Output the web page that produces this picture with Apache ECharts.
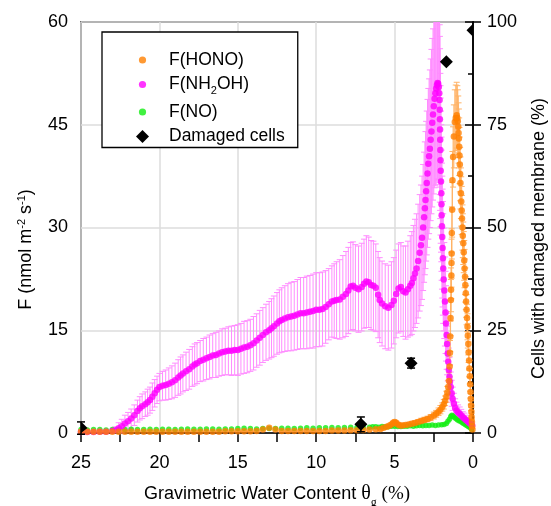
<!DOCTYPE html>
<html><head><meta charset="utf-8">
<script src="https://cdn.jsdelivr.net/npm/echarts@6/dist/echarts.min.js"></script>
<style>html,body{margin:0;padding:0;background:#fff}#c{width:551px;height:506px}</style>
</head><body><div id="c"></div>
<script>
// ---------- data ----------
const honoX = [25,24.6,24.2,23.8,23.4,23,22.6,22.2,21.8,21.4,21,20.6,20.2,19.8,19.4,19,18.6,18.2,17.8,17.4,17,16.6,16.2,15.8,15.4,15,14.6,14.2,
 13.8,13.4,13,12.6,12.2,11.8,11.4,11,10.6,10.2,9.8,9.4,9,8.6,8.2,7.8,7.4,7,6.6,6.2,
 5.9,5.7,5.5,5.35,5.2,5.1,5,4.9,4.8,4.65,4.5,4.3,4.1,3.9,3.7,3.5,3.3,3.1,2.9,2.7,2.5,2.35,2.2,2.08,1.96,1.86,1.78,1.7,1.64,1.58,1.53,
 1.49,1.47,1.45,1.43,1.41,1.4,1.38,1.37,1.36,1.35,1.33,1.31,1.27,1.22,1.16,1.1,1.04,
 1,0.97,0.94,0.92,0.9,0.88,0.86,0.84,0.82,0.8,0.77,0.75,0.72,0.7,0.67,0.65,0.62,0.59,0.56,0.54,0.51,0.49,0.46,0.44,0.41,0.38,0.35,0.33,0.3,0.28,0.25,0.23,0.2,0.18,0.16,0.14,0.12,0.1,0.09,0.07,0.06,0.04];
const honoY = [0.2,0.2,0.2,0.2,0.2,0.2,0.2,0.2,0.2,0.2,0.2,0.2,0.2,0.2,0.2,0.2,0.2,0.2,0.2,0.2,0.2,0.2,0.2,0.25,0.25,0.25,0.25,0.25,
 0.3,0.5,0.75,0.5,0.3,0.3,0.3,0.3,0.3,0.3,0.3,0.3,0.35,0.35,0.35,0.4,0.4,0.45,0.5,0.55,
 0.6,0.75,0.9,1.05,1.25,1.45,1.6,1.45,1.25,1.1,1.1,1.15,1.25,1.35,1.45,1.6,1.75,1.9,2.05,2.25,2.55,2.8,3.1,3.4,3.8,4.2,4.7,5.3,5.9,6.7,7.6,
 9.7,11.7,14.1,16.8,19.4,20.9,23.0,24.8,26.2,29.2,32.6,36.9,40.3,43.3,45.4,46.0,46.4,
 46.0,45.5,44.7,43.8,43.0,41.8,40.5,39.2,37.8,36.5,35.0,33.8,32.5,31.3,30.0,28.8,27.7,26.4,25.2,24.0,22.8,21.6,20.4,19.2,18.0,16.8,15.5,14.2,13.0,11.8,10.6,9.4,8.3,7.1,6.0,5.0,4.0,3.1,2.3,1.6,1.0,0.5];
const honoErr = [0,0,0,0,0,0,0,0,0,0,0,0,0,0,0,0,0,0,0,0,0,0,0,0,0,0,0,0,
 0,0,0,0,0,0,0,0,0,0,0,0,0,0,0,0,0,0,0,0,
 0.2,0.2,0.2,0.2,0.25,0.25,0.3,0.3,0.3,0.3,0.3,0.3,0.3,0.35,0.35,0.35,0.4,0.4,0.4,0.45,0.5,0.5,0.55,0.6,0.6,0.7,0.7,0.8,0.9,1.0,1.2,
 1.5,1.8,2.2,2.6,3.0,3.2,3.4,3.5,3.6,3.8,4.0,4.2,4.4,4.6,4.7,4.8,4.8,
 4.7,4.6,4.5,4.4,4.3,4.2,4.1,4.0,3.9,3.8,3.7,3.6,3.5,3.4,3.3,3.2,3.1,3.0,2.9,2.8,2.6,2.5,2.4,2.3,2.2,2.0,1.9,1.8,1.6,1.5,1.4,1.2,1.1,1.0,0.9,0.8,0.7,0.6,0.5,0.4,0.3,0.2];

const nh2ohX = [25,24.6,24.2,23.8,23.4,23.0,
 22.8,22.6,22.4,22.2,22.0,21.8,21.6,21.4,21.25,21.1,20.9,20.75,20.6,20.45,20.3,20.15,20.0,19.8,19.6,19.4,19.2,19.0,18.8,18.65,18.5,18.3,18.1,17.9,17.75,17.6,17.4,17.2,17.0,
 16.8,16.6,16.4,16.2,16.0,15.8,15.6,15.4,15.2,15.0,14.8,14.6,14.4,14.2,14.0,13.8,13.6,13.4,13.2,13.0,12.85,12.7,12.5,12.35,12.2,12.0,11.8,11.6,11.4,11.2,11.0,
 10.8,10.6,10.4,10.2,10.0,9.8,9.6,9.4,9.2,9.0,8.85,8.7,8.5,8.3,8.1,7.95,7.8,7.65,7.5,7.3,7.1,6.95,6.8,6.65,6.5,6.35,6.2,6.05,5.95,5.8,5.6,5.4,5.2,5.05,4.9,4.75,4.6,4.45,4.3,4.15,
 4.0,3.9,3.8,3.7,3.6,3.5,3.4,3.32,3.25,3.18,3.12,3.07,3.03,2.99,2.95,2.9,2.85,2.8,2.75,2.7,2.65,2.6,2.55,2.5,2.45,2.4,2.35,2.3,2.26,2.22,
 2.18,2.15,2.13,2.12,2.11,2.1,2.09,2.08,2.07,2.06,2.04,2.02,2.01,2.0,1.98,1.96,1.94,1.92,1.9,1.87,1.83,1.79,1.75,1.72,1.68,1.65,1.61,1.58,1.54,1.5,1.47,1.42,1.36,1.3,1.22,1.14,1.05,
 0.95,0.85,0.75,0.65,0.55,0.45,0.35,0.25,0.15,0.05];
const nh2ohY = [0.15,0.15,0.15,0.2,0.2,0.3,
 0.4,0.7,1.0,1.4,1.7,2.1,2.6,3.2,3.6,3.9,4.2,4.5,4.8,5.3,5.8,6.3,6.7,6.9,7.0,7.2,7.4,7.7,8.1,8.4,8.7,9.0,9.3,9.7,10.0,10.2,10.5,10.7,10.9,
 11.1,11.3,11.4,11.6,11.8,11.9,12.0,12.0,12.1,12.1,12.3,12.5,12.6,12.8,13.1,13.5,13.9,14.3,14.7,15.0,15.3,15.6,16.0,16.3,16.5,16.7,16.9,17.0,17.1,17.3,17.5,
 17.5,17.6,17.7,17.8,18.0,18.0,18.1,18.4,18.8,19.2,19.3,19.4,19.5,19.9,20.3,20.8,21.4,21.5,21.2,21.0,21.3,21.8,22.1,22.0,21.6,21.5,21.2,20.2,19.4,18.9,18.5,18.3,18.7,19.3,20.3,21.1,21.3,20.7,20.5,21.0,
 21.5,21.9,22.6,23.3,24.0,25.1,26.3,27.4,28.5,30.0,31.5,32.8,34.0,35.3,36.5,37.9,39.3,40.4,41.5,42.8,44.0,45.3,46.5,47.7,48.8,49.6,50.3,50.8,51.1,51.0,
 50.5,49.6,48.6,47.2,45.8,44.3,42.8,41.3,39.8,38.3,36.7,35.0,33.4,31.8,30.2,28.6,27.0,25.5,24.0,22.4,20.8,19.2,17.6,16.0,14.3,13.0,11.6,10.4,9.2,8.2,7.5,6.7,5.8,5.0,4.3,3.7,3.3,
 3.0,2.8,2.55,2.3,2.1,1.9,1.7,1.5,1.3,1.1];
const nh2ohErr = [0,0,0,0,0,0,
 0.5,0.8,1.0,1.2,1.3,1.4,1.5,1.6,1.7,1.8,1.8,1.9,1.9,2.0,2.0,2.0,2.0,2.1,2.2,2.3,2.4,2.5,2.6,2.7,2.7,2.8,2.9,2.9,3.0,3.0,3.0,3.1,3.1,
 3.2,3.2,3.3,3.3,3.4,3.4,3.5,3.6,3.6,3.7,3.7,3.8,3.8,3.8,3.9,3.9,4.0,4.0,4.1,4.2,4.3,4.4,4.5,4.6,4.7,4.8,4.9,5.0,5.0,5.1,5.2,
 5.2,5.3,5.3,5.4,5.4,5.4,5.4,5.3,5.2,5.2,5.4,5.6,5.8,6.0,6.2,6.3,6.4,6.4,6.3,6.3,6.4,6.5,6.7,6.6,6.5,6.5,6.4,6.3,6.2,6.2,6.2,6.2,6.3,6.3,6.4,6.5,6.5,6.6,6.8,7.0,
 7.3,7.5,7.7,7.9,8.0,8.3,8.5,8.8,9.0,9.2,9.5,9.7,10.0,10.2,10.5,10.8,11.0,11.3,11.5,11.8,12.0,12.3,12.5,12.8,13.0,13.5,14.0,14.0,14.0,14.0,
 13.5,13.0,12.7,12.4,12.1,11.8,11.5,11.2,10.9,10.6,10.3,10.0,9.8,9.5,9.2,8.9,8.6,8.3,8.0,7.5,7.0,6.5,6.0,5.5,5.0,4.5,4.0,3.6,3.2,2.8,2.5,2.2,1.9,1.7,1.5,1.3,1.2,
 1.1,1.0,0.9,0.8,0.8,0.7,0.6,0.6,0.5,0.5];

const noX = [25,24.6,24.2,23.8,23.4,23,22.6,22.2,21.8,21.4,21,20.6,20.2,19.8,19.4,19,18.6,18.2,17.8,17.4,17,16.6,16.2,15.8,15.4,15,14.6,14.2,13.8,13.4,13,
 12.6,12.2,11.8,11.4,11,10.6,10.2,9.8,9.4,9,8.6,8.2,7.8,7.4,7,
 6.6,6.4,6.2,6.0,5.8,5.6,5.4,5.2,5.0,4.8,4.6,4.4,4.2,4.0,3.8,3.6,3.4,3.2,3.0,2.8,2.6,2.4,2.2,2.0,
 1.85,1.7,1.6,1.5,1.42,1.35,1.28,1.2,1.1,1.0,0.9,0.8,0.7,0.6,0.5,0.4,0.3,0.2,0.1];
const noY = [0.5,0.45,0.5,0.5,0.45,0.5,0.5,0.5,0.55,0.5,0.5,0.55,0.5,0.55,0.55,0.5,0.55,0.6,0.55,0.55,0.6,0.6,0.55,0.6,0.6,0.65,0.7,0.65,0.6,0.65,0.65,
 0.65,0.7,0.7,0.65,0.7,0.75,0.7,0.75,0.75,0.8,0.75,0.8,0.85,0.8,0.85,
 0.85,0.9,0.9,0.85,0.95,0.9,0.9,1.0,1.0,0.95,0.95,1.0,1.0,1.05,1.0,1.05,1.1,1.05,1.1,1.1,1.15,1.1,1.15,1.2,
 1.25,1.4,1.7,2.0,2.4,2.6,2.5,2.3,2.1,1.95,1.8,1.7,1.55,1.4,1.25,1.1,0.95,0.8,0.6];

const cellsX = [25, 7.15, 3.95, 1.7, 0];
const cellsY = [1.2, 2.1, 17.0, 90.3, 98.0];
const cellsErr = [1.5, 1.8, 1.2, 0.5, 0.5];

const xTicks = {min: 0, max: 25, step: 5};
const yLeftTicks = {min: 0, max: 60, step: 15};
const yRightTicks = {min: 0, max: 100, step: 25};

// ---------- helpers ----------
const zip2 = (xs, ys) => xs.map((x, i) => [x, ys[i]]);
const zip3 = (xs, ys, es) => xs.map((x, i) => [x, ys[i], es[i]]);
const clampPt = (p, r) => [Math.min(Math.max(p[0], r.x), r.x + r.width), Math.min(Math.max(p[1], r.y), r.y + r.height)];

function errRender(color, capHalf, lw) {
  return function (params, api) {
    const x = api.value(0), y = api.value(1), e = api.value(2);
    if (!(e > 0)) return null;
    const cs = params.coordSys;
    const lo = api.coord([x, y - e]), hi = api.coord([x, y + e]);
    const top = cs.y, bottom = cs.y + cs.height;
    const y1 = Math.min(Math.max(lo[1], top), bottom), y2 = Math.min(Math.max(hi[1], top), bottom);
    const ch = [{type: 'line', shape: {x1: lo[0], y1: y1, x2: lo[0], y2: y2}, style: {stroke: color, lineWidth: lw}}];
    if (hi[1] >= top) ch.push({type: 'line', shape: {x1: hi[0] - capHalf, y1: hi[1], x2: hi[0] + capHalf, y2: hi[1]}, style: {stroke: color, lineWidth: lw}});
    if (lo[1] <= bottom) ch.push({type: 'line', shape: {x1: lo[0] - capHalf, y1: lo[1], x2: lo[0] + capHalf, y2: lo[1]}, style: {stroke: color, lineWidth: lw}});
    return {type: 'group', children: ch};
  };
}

function cellsRender(params, api) {
  const x = api.value(0), y = api.value(1), e = api.value(2);
  const cs = params.coordSys;
  const r = {x: cs.x, y: cs.y, width: cs.width, height: cs.height};
  const c = api.coord([x, y]);
  const h = 6.5;
  const pts = [[c[0], c[1] - h], [c[0] + h, c[1]], [c[0], c[1] + h], [c[0] - h, c[1]]].map(p => clampPt(p, r));
  const lo = api.coord([x, y - e]), hi = api.coord([x, y + e]);
  const ch = [];
  if (e > 0.8) {
    ch.push({type: 'line', shape: {x1: c[0], y1: lo[1], x2: c[0], y2: hi[1]}, style: {stroke: '#000', lineWidth: 1.5}});
    ch.push({type: 'line', shape: {x1: c[0] - 4, y1: lo[1], x2: c[0] + 4, y2: lo[1]}, style: {stroke: '#000', lineWidth: 1.5}});
    ch.push({type: 'line', shape: {x1: c[0] - 4, y1: hi[1], x2: c[0] + 4, y2: hi[1]}, style: {stroke: '#000', lineWidth: 1.5}});
  }
  ch.push({type: 'polygon', shape: {points: pts}, style: {fill: '#000'}});
  return {type: 'group', children: ch};
}

const FONT = 'Liberation Sans, Arial, sans-serif';
const SERIF = 'Liberation Serif, Times New Roman, serif';
const dotIcon = 'path://M0,0M13,13M2.9,6.5A3.6,3.6 0 1 0 10.1,6.5A3.6,3.6 0 1 0 2.9,6.5Z';
const diamondIcon = 'path://M6.5,0L13,6.5L6.5,13L0,6.5Z';

const chart = echarts.init(document.getElementById('c'), null, {renderer: 'canvas'});
chart.setOption({
  animation: false,
  backgroundColor: '#fff',
  grid: {left: 81, right: 78, top: 22, bottom: 73, show: true, borderColor: '#000', borderWidth: 1.5, containLabel: false, outerBoundsMode: 'none'},
  legend: {
    left: 102, top: 32, orient: 'vertical', selectedMode: false,
    padding: [19, 13, 2, 34], itemGap: 6.5, itemWidth: 43, itemHeight: 13,
    borderColor: '#000', borderWidth: 1.3, backgroundColor: '#fff',
    data: [
      {name: 'F(HONO)', icon: dotIcon},
      {name: 'F(NH2OH)', icon: dotIcon},
      {name: 'F(NO)', icon: dotIcon},
      {name: 'Damaged cells', icon: diamondIcon}
    ],
    formatter: n => n === 'F(NH2OH)' ? '{t|F(NH}{s|2}{t|OH)}' : '{t|' + n + '}',
    textStyle: {color: '#000', fontFamily: FONT, fontSize: 17.5,
      rich: {t: {fontSize: 17.5, fontFamily: FONT, lineHeight: 18, color: '#000'},
             s: {fontSize: 11, fontFamily: FONT, lineHeight: 11, verticalAlign: 'bottom', padding: [0, 0, -3, 0], color: '#000'}}}
  },
  xAxis: {
    type: 'value', inverse: true, min: xTicks.min, max: xTicks.max, interval: xTicks.step,
    axisLine: {show: true, lineStyle: {color: '#000', width: 1.5}},
    axisTick: {show: true, length: 9, lineStyle: {color: '#000', width: 1.5}},
    minorTick: {show: true, splitNumber: 2, length: 9, lineStyle: {color: '#000', width: 1.5}},
    splitLine: {show: true, lineStyle: {color: '#dcdcdc', width: 1.5}},
    axisLabel: {color: '#000', fontSize: 18, fontFamily: FONT, margin: 21},
    name: 'Gravimetric Water Content {th|θ}{g|g}{p| (%)}',
    nameLocation: 'middle', nameGap: 51,
    nameTextStyle: {color: '#000', fontSize: 18, fontFamily: FONT,
      rich: {th: {fontFamily: SERIF, fontSize: 20, color: '#000', lineHeight: 20},
             g: {fontFamily: SERIF, fontSize: 12, color: '#000', lineHeight: 12, verticalAlign: 'bottom', padding: [0, 0, -5, 0]},
             p: {fontFamily: SERIF, fontSize: 19, color: '#000', lineHeight: 20}}}
  },
  yAxis: [{
    type: 'value', min: yLeftTicks.min, max: yLeftTicks.max, interval: yLeftTicks.step,
    axisLine: {show: true, lineStyle: {color: '#000', width: 1.5}},
    axisTick: {show: true, length: 8, lineStyle: {color: '#000', width: 1.5}},
    minorTick: {show: true, splitNumber: 2, length: 5, lineStyle: {color: '#000', width: 1.5}},
    splitLine: {show: true, lineStyle: {color: '#dcdcdc', width: 1.5}},
    axisLabel: {color: '#000', fontSize: 18, fontFamily: FONT, margin: 13},
    name: '{a|F (nmol m}{s|-2}{a| s}{s|-1}{a|)}',
    nameLocation: 'middle', nameGap: 45,
    nameTextStyle: {color: '#000', fontSize: 18, fontFamily: FONT, padding: [0, 44, 0, 0],
      rich: {a: {fontSize: 18, fontFamily: FONT, color: '#000', lineHeight: 20},
             s: {fontSize: 11, fontFamily: FONT, color: '#000', lineHeight: 11, verticalAlign: 'top'}}}
  }, {
    type: 'value', position: 'right', min: yRightTicks.min, max: yRightTicks.max, interval: yRightTicks.step,
    axisLine: {show: true, lineStyle: {color: '#000', width: 1.5}},
    axisTick: {show: true, length: 8, lineStyle: {color: '#000', width: 1.5}},
    splitLine: {show: false},
    axisLabel: {color: '#000', fontSize: 18, fontFamily: FONT, margin: 14},
    name: 'Cells with damaged membrane (%)',
    nameLocation: 'middle', nameGap: 57, nameRotate: 90,
    nameTextStyle: {color: '#000', fontSize: 18, fontFamily: FONT, padding: [0, 22, 0, 0]}
  }],
  series: [
    {type: 'custom', name: 'errNH2OH', renderItem: errRender('#ff8cff', 3, 1), data: zip3(nh2ohX, nh2ohY, nh2ohErr), z: 1, silent: true, encode: {x: 0, y: 1}},
    {type: 'custom', name: 'errHONO', renderItem: errRender('#ffb266', 3, 1), data: zip3(honoX, honoY, honoErr), z: 1, silent: true, encode: {x: 0, y: 1}},
    {type: 'scatter', name: 'F(NO)', data: zip2(noX, noY), symbol: 'circle', symbolSize: 5.5, itemStyle: {color: '#11ee11'}, z: 2},
    {type: 'scatter', name: 'F(NH2OH)', data: zip2(nh2ohX, nh2ohY), symbol: 'circle', symbolSize: 6.5, itemStyle: {color: '#ff00ff'}, z: 3},
    {type: 'scatter', name: 'F(HONO)', data: zip2(honoX, honoY), symbol: 'circle', symbolSize: 6.5, itemStyle: {color: '#ff7f00'}, z: 4},
    {type: 'custom', name: 'Damaged cells', yAxisIndex: 1, renderItem: cellsRender, data: zip3(cellsX, cellsY, cellsErr), itemStyle: {color: '#000'}, z: 5, encode: {x: 0, y: 1}}
  ]
});
</script>
</body></html>
